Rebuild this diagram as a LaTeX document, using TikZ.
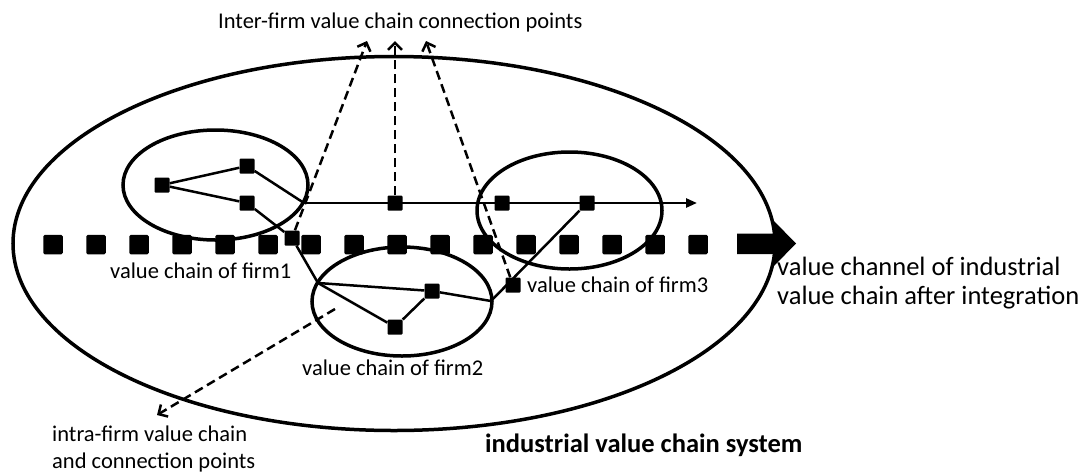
\documentclass[tikz,border=0pt]{standalone}
\usepackage{fontspec}
\setmainfont{Carlito}
\usetikzlibrary{arrows.meta,shapes.geometric}
\begin{document}
\begin{tikzpicture}[x=1pt,y=-1pt,
  oval/.style={draw, ellipse, line width=3.5pt, inner sep=0pt},
  rowsq/.style={fill, minimum size=19.5pt, inner sep=0pt, rounded corners=1.5pt},
  chainpt/.style={fill, minimum size=15pt, inner sep=0pt, rounded corners=1pt},
  link/.style={line width=2.5pt},
  dlink/.style={line width=2.5pt, dash pattern=on 9pt off 5pt, -{Straight Barb[length=7pt,width=14pt]}},
  lab/.style={font=\fontsize{22.5}{26.5}\selectfont, inner sep=0pt, anchor=base west, align=left},
  biglab/.style={font=\fontsize{26.5}{29}\selectfont, inner sep=0pt, anchor=base west, align=left},
]
\useasboundingbox (0,0) rectangle (1092,475);

% system ellipse and firm ellipses
\node[oval, minimum width=762pt, minimum height=374pt] (sysE) at (394,243.5) {};
\node[oval, minimum width=185pt, minimum height=110pt] (e1) at (215.5,185) {};
\node[oval, minimum width=180pt, minimum height=109pt] (e2) at (402,301.5) {};
\node[oval, minimum width=185pt, minimum height=117pt] (e3) at (569.5,210.5) {};

% dotted value channel row
\foreach \i in {0,...,15} {
  \node[rowsq] (r\i) at ({53+43*\i},244.5) {};
}
\fill (737,233.5) -- (773,233.5) -- (773,220) -- (796,243.5) -- (773,267) -- (773,254) -- (737,254) -- cycle;

% chain points
\node[chainpt] (f1a) at (162,185) {};
\node[chainpt] (f1b) at (247,166) {};
\node[chainpt] (f1c) at (247,203) {};
\node[chainpt] (c1) at (292,238) {};
\node[chainpt] (h1) at (395,203) {};
\node[chainpt] (h2) at (502,203) {};
\node[chainpt] (h3) at (587,203) {};
\node[chainpt] (f2a) at (432,291) {};
\node[chainpt] (f2b) at (395,327) {};
\node[chainpt] (c3) at (513,285) {};

\coordinate (j1) at (304,203);
\coordinate (hend) at (697,203);
\coordinate (j2) at (318,283);
\coordinate (j3) at (491,301);
\coordinate (in2) at (335,309);
\coordinate (u1) at (367,41);
\coordinate (u2) at (395,41);
\coordinate (u3) at (426,41);
\coordinate (d1) at (157,415);

% solid links
\draw[link] (f1a) -- (f1b);
\draw[link] (f1a) -- (f1c);
\draw[link] (f1b) -- (j1);
\draw[link, -{Triangle[length=11pt,width=9pt]}] (j1) -- (hend);
\draw[link] (f1c) -- (c1) -- (j2);
\draw[link] (j2) -- (f2a);
\draw[link] (j2) -- (f2b);
\draw[link] (f2b) -- (f2a);
\draw[link] (f2a) -- (j3);
\draw[link] (j3) -- (h3);

% dashed pointers
\draw[dlink] (c1) -- (u1);
\draw[dlink] (h1) -- (u2);
\draw[dlink] (c3) -- (u3);
\draw[dlink] (in2) -- (d1);

% labels
\node[lab] (ttop) at (218,28) {Inter-firm value chain connection points};
\node[lab] (t1) at (110,278) {value chain of firm1};
\node[lab] (t2) at (302,375) {value chain of firm2};
\node[lab] (t3) at (527,292) {value chain of firm3};
\node[biglab] (tchan) at (777,304) {value channel of industrial\\value chain after integration};
\node[lab] (tintra) at (52,468) {intra-firm value chain\\and connection points};
\node[lab, font=\fontsize{26.5}{29}\selectfont\bfseries] (tsys) at (485,452) {industrial value chain system};
\end{tikzpicture}
\end{document}
